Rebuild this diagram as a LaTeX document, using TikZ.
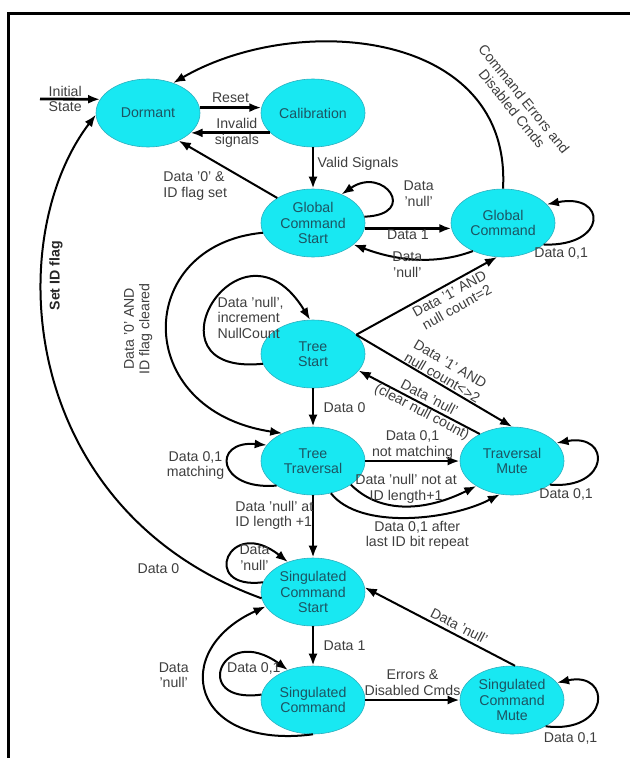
\documentclass[tikz,border=0pt]{standalone}
\usepackage{fontspec}
\setmainfont{Liberation Sans}
\usetikzlibrary{arrows.meta,shapes.geometric}
\definecolor{statefill}{RGB}{24,232,242}
\definecolor{stateline}{RGB}{45,175,190}
\definecolor{statetext}{RGB}{28,84,98}
\definecolor{labeltext}{RGB}{62,62,62}

\begin{document}
\begin{tikzpicture}[x=1bp, y=-1bp,
state/.style = {draw=stateline, line width=0.6bp, fill=statefill, ellipse, text=statetext, minimum width=104bp, minimum height=68bp, inner sep=0pt, align=center},
txt/.style = {text=labeltext, align=center},
lead/.style = {line width=2.8bp},
font=\fontsize{14.2}{15.5}\selectfont,
line width=2bp,
>={Latex[length=12bp,width=9bp]}
]

\useasboundingbox (0,0) rectangle (630,758);
\draw [line width=2.4bp] (630,13.5) -- (8.5,13.5) -- (8.5,758);

    \node [state] (dormant) at (148,113) {Dormant};
    \node [state, node distance=165bp, right of=dormant] (calib) {Calibration};
    \node [state, node distance=110bp, below of=calib] (gcs) {Global\\Command\\Start};
    \node [state, node distance=190bp, right of=gcs] (gc) {Global\\Command};
    \node [state, node distance=131bp, below of=gcs] (ts) {Tree\\Start};
    \node [state, node distance=107bp, below of=ts] (tt) {Tree\\Traversal};
    \node [state, node distance=199bp, right of=tt] (tm) {Traversal\\Mute};
    \node [state, node distance=131bp, below of=tt] (scs) {Singulated\\Command\\Start};
    \node [state, node distance=108bp, below of=scs] (sc) {Singulated\\Command};
    \node [state, node distance=199bp, right of=sc] (scm) {Singulated\\Command\\Mute};
    \coordinate (init) at (40,99);

    \draw [->, lead] (init) -- node[txt, pos=.42] {Initial\\State} (dormant.164);
    \draw [->, lead] (dormant.6) -- node[txt, above] {Reset} (calib.174);
    \draw [->, lead] (calib.205) -- node[txt, pos=.42] {Invalid\\signals} (dormant.-25);
    \draw [->, lead] (calib) -- node[txt, right, pos=.4] {Valid Signals} (gcs);
    \draw [->] (gcs.145) -- node[txt, pos=.49, anchor=north east, inner sep=1bp, align=left] {Data '0' \&\\ID flag set} (dormant.-42);
    \draw [->] (gcs.7) .. controls +(55,-2) and +(42,-29) .. node[txt, right=10bp] {Data\\'null'} (gcs.45);

    \draw [->, lead] (gcs.-6) -- node[txt, below=-3bp] {Data 1} (gc.186);
    \draw [->] (gc.223) .. controls +(-40,15) and +(40,15) .. node[txt, pos=.55, yshift=-6bp] {Data\\'null'} (gcs.-28);
    \draw [->] (gc.-28) .. controls +(65,2) and +(60,-12) .. node[txt, pos=.1, below] {Data 0,1} (gc.23);
    \draw [->] (gc.north) .. controls +(9,-159) and +(124,-72) .. node[txt, pos=.2, xshift=34bp, yshift=6bp, rotate=-51] {Command Errors and\\Disabled Cmds} (dormant.50);

    \draw [->] (scs.187) .. controls +(-243,-88) and +(-95,125) .. node[txt, pos=.12, below left] {Data 0} node[txt, pos=.68, xshift=13bp, yshift=-7bp, rotate=90, text=black!85, font=\fontsize{14.2}{15.5}\selectfont\bfseries] {Set ID flag} (dormant.182);
    \draw [->] (gcs.191) .. controls +(-129,12) and +(-152,-23) .. node[txt, pos=.5, xshift=-29bp, rotate=90] {Data '0' AND\\ID flag cleared} (tt.138);

    \draw [->] (ts.191) .. controls +(-125,13) and +(-70,-115) .. node[txt, pos=.4, anchor=west, xshift=8bp, yshift=3bp, align=left] {Data 'null',\\increment\\NullCount} (ts.95);
    \draw [->] (ts.24) -- node[txt, sloped, below, pos=.63] {Data '1' AND\\null count=2} (gc.260);
    \draw [->] (ts.24) -- node[txt, sloped, above, pos=.53, inner sep=1bp] {Data '1' AND\\null count<>2} (tm.north);
    \draw [->] (tm.140) -- node[txt, sloped, pos=.45] {Data 'null'\\(clear null count)} (ts.-20);
    \draw [->, lead] (ts) -- node[txt, right=6bp] {Data 0} (tt);

    \draw [->] (tt.214) .. controls +(-60,5) and +(-55,-5) .. node[txt, left] {Data 0,1\\matching} (tt.161);
    \draw [->, lead] (tt) -- node[txt, above, yshift=-3bp] {Data 0,1\\not matching} (tm);
    \draw [->] (tt.-32) .. controls +(30,30) and +(-50,25) .. node[txt, above, inner sep=2bp] {Data 'null' not at\\ID length+1} (tm.215);
    \draw [->] (tt.-61) .. controls +(29,37) and +(-50,26) .. node[txt, below, pos=.55] {Data 0,1 after\\last ID bit repeat} (tm.250);
    \draw [->] (tm.-32) .. controls +(60,5) and +(55,-10) .. node[txt, pos=.1, below] {Data 0,1} (tm.22);
    \draw [->, lead] (tt) -- node[txt, pos=.32, anchor=east, xshift=5bp, align=left] {Data 'null' at\\ID length +1} (scs);

    \draw [->] (scs.169) .. controls +(-64,8) and +(-59,-47) .. node[txt, right=6bp] {Data\\'null'} (scs.130);
    \draw [->, lead] (scs) -- node[txt, right=6bp] {Data 1} (sc);
    \draw [->] (sc.174) .. controls +(-72,10) and +(-66,-48) .. node[txt, right] {Data 0,1} (sc.130);
    \draw [->] (sc.south) .. controls +(-123,16) and +(-97,44) .. node[txt, pos=.6, left=12bp] {Data\\'null'} (scs.197);
    \draw [->, lead] (sc) -- node[txt, above] {Errors \&\\Disabled Cmds} (scm);
    \draw [->] (scm.85) -- node[txt, sloped, above, pos=.4] {Data 'null'} (scs.5);
    \draw [->] (scm.-38) .. controls +(65,8) and +(55,-12) .. node[txt, pos=.15, below=3bp] {Data 0,1} (scm.21);

\end{tikzpicture}
\end{document}
